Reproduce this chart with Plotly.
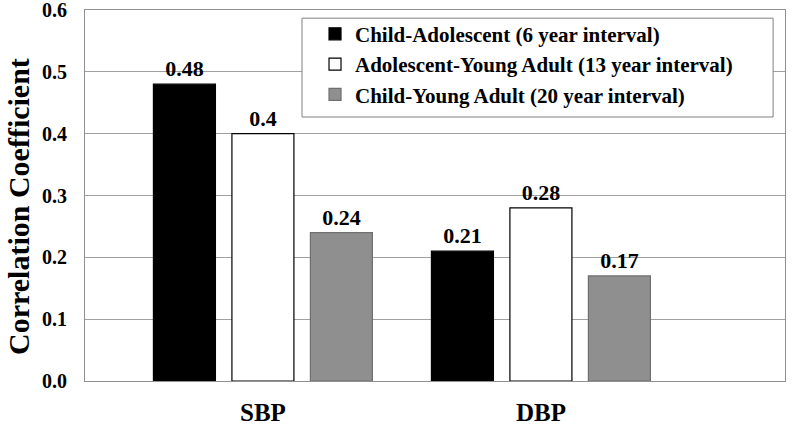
import plotly.graph_objects as go

categories = ["SBP", "DBP"]
series_names = [
    "Child-Adolescent (6 year interval)",
    "Adolescent-Young Adult (13 year interval)",
    "Child-Young Adult (20 year interval)",
]
child_adolescent = [0.48, 0.21]
adolescent_young = [0.40, 0.28]
child_young = [0.24, 0.17]
label_texts = [["0.48", "0.21"], ["0.4", "0.28"], ["0.24", "0.17"]]
y_ticks = [0.0, 0.1, 0.2, 0.3, 0.4, 0.5, 0.6]
y_title = "Correlation Coefficient"

FONT = "Liberation Serif, Times New Roman, serif"
series_values = [child_adolescent, adolescent_young, child_young]
fills = ["#000000", "#ffffff", "#8f8f8f"]
outlines = ["#000000", "#000000", "#6f6f6f"]

fig = go.Figure()
for name, vals, txt, fc, lc in zip(series_names, series_values, label_texts, fills, outlines):
    fig.add_trace(go.Bar(
        x=categories, y=vals, name=name,
        marker=dict(color=fc, line=dict(color=lc, width=1.2)),
        text=txt, textposition="outside", cliponaxis=False,
        textfont=dict(family=FONT, size=22, color="black", weight="bold"),
    ))

# legend frame (drawn as a shape so its padding matches the reference)
fig.add_shape(type="rect", xref="paper", yref="paper",
              x0=0.31, x1=0.983, y0=0.7116, y1=0.978,
              fillcolor="white", line=dict(color="#808080", width=1), layer="above")

# y-axis title as a rotated annotation
fig.add_annotation(text=y_title, xref="paper", yref="paper",
                   x=-0.0943, y=0.4717, xanchor="center", yanchor="middle",
                   textangle=-90, showarrow=False,
                   font=dict(family=FONT, size=30, color="black", weight="bold"))

fig.update_layout(
    width=800, height=427,
    margin=dict(l=85, r=15, t=10, b=46),
    paper_bgcolor="white", plot_bgcolor="white",
    barmode="group", bargap=0.153, bargroupgap=0.21,
    font=dict(family=FONT, color="black"),
    showlegend=True,
    legend=dict(
        x=0.3286, y=0.99, xanchor="left", yanchor="top",
        bgcolor="rgba(0,0,0,0)", borderwidth=0,
        font=dict(family=FONT, size=21, color="black", weight="bold"),
        traceorder="normal",
    ),
    xaxis=dict(
        type="category", range=[-0.64, 1.878], automargin=False,
        showline=True, linecolor="#909090", linewidth=1, mirror=True,
        showgrid=False, ticks="",
        tickfont=dict(family=FONT, size=25, color="black", weight="bold"),
        ticklabelstandoff=9,
    ),
    yaxis=dict(
        range=[0, 0.6], tickvals=y_ticks, tickformat=".1f", automargin=False,
        showline=True, linecolor="#909090", linewidth=1, mirror=True,
        showgrid=True, gridcolor="#a0a0a0", gridwidth=1,
        zeroline=False, ticks="", ticklabeloverflow="allow",
        tickfont=dict(family=FONT, size=20, color="black", weight="bold"),
        ticklabelstandoff=13,
    ),
)

fig.write_html("out.html", post_script="document.body.style.margin='0';",
               config={"displayModeBar": False})
